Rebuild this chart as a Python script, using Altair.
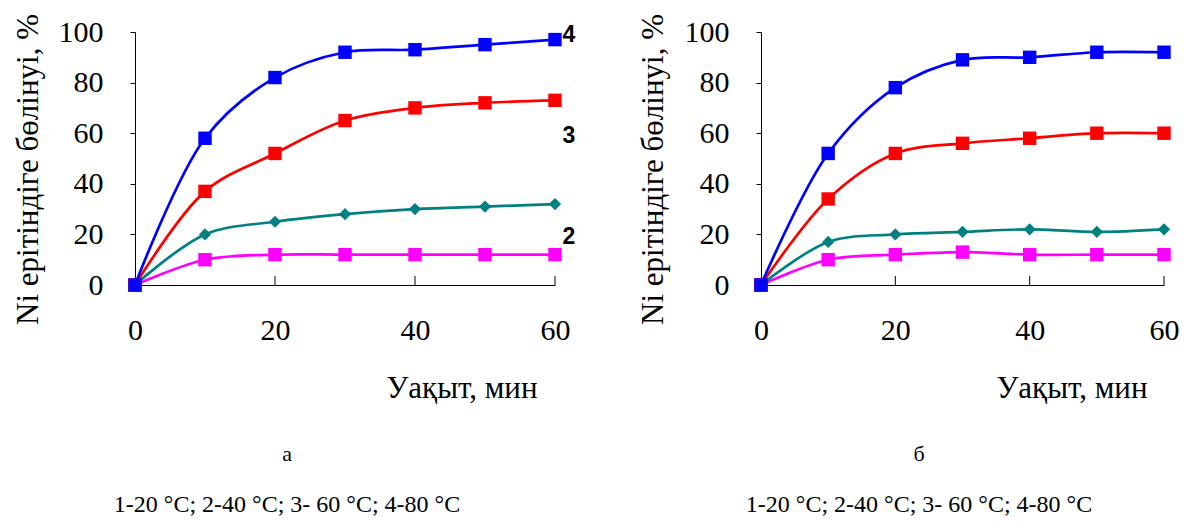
import altair as alt
import pandas as pd

time_min = [0, 10, 20, 30, 40, 50, 60]
a_s1 = [0, 10, 12, 12, 12, 12, 12]
a_s2 = [0, 20, 25, 28, 30, 31, 32]
a_s3 = [0, 37, 52, 65, 70, 72, 73]
a_s4 = [0, 58, 82, 92, 93, 95, 97]
b_s1 = [0, 10, 12, 13, 12, 12, 12]
b_s2 = [0, 17, 20, 21, 22, 21, 22]
b_s3 = [0, 34, 52, 56, 58, 60, 60]
b_s4 = [0, 52, 78, 89, 90, 92, 92]
series_colors = ["#FF00FF", "#008080", "#FF0000", "#0000FF"]
series_shapes = ["square", "diamond", "square", "square"]
series_sizes = [180, 150, 180, 180]
curve_labels = ["4", "3", "2"]
curve_label_y = [99, 59, 19]
curve_label_x = [62.0, 62.0, 62.0]
x_ticks = [0, 20, 40, 60]
y_ticks = [0, 20, 40, 60, 80, 100]
x_title = "Уақыт, мин"
y_title = "Ni ерітіндіге бөлінуі, %"
caption_legend = "1-20 °C; 2-40 °C; 3- 60 °C; 4-80 °C"

H = 253
SERIF = "Liberation Serif"


def panel(series, width, letter, xtitle_x, ytitle_x, caption_x, with_labels):
    xenc = alt.X(
        "t:Q",
        scale=alt.Scale(domain=[0, 60], nice=False),
        axis=alt.Axis(
            values=x_ticks, ticks=False, tickSize=0, labelPadding=30,
            labelFlush=False, labelFont=SERIF, labelFontSize=30,
            title=x_title, titleX=xtitle_x, titleY=112, titleAlign="right",
            titleFont=SERIF, titleFontSize=31,
            titleBaseline="alphabetic", grid=False,
        ),
    )
    yenc = alt.Y(
        "v:Q",
        scale=alt.Scale(domain=[0, 100], nice=False),
        axis=alt.Axis(
            values=y_ticks, tickSize=5, labelPadding=27,
            labelFlush=False, labelFont=SERIF, labelFontSize=30,
            title=y_title, titleX=ytitle_x, titleY=137, titleAngle=-90,
            titleFont=SERIF, titleFontSize=31,
            titleAlign="center", titleBaseline="alphabetic", grid=False,
        ),
    )
    layers = []
    for vals, c, s, sz in zip(series, series_colors, series_shapes, series_sizes):
        df = pd.DataFrame({"t": time_min, "v": vals})
        base = alt.Chart(df).encode(x=xenc, y=yenc)
        layers.append(base.mark_line(interpolate="catmull-rom", color=c, strokeWidth=2.7))
        layers.append(base.mark_point(shape=s, filled=True, size=sz, color=c, opacity=1))
    tick_df = pd.DataFrame({"t": x_ticks[1:]})
    layers.append(
        alt.Chart(tick_df).mark_rule(color="black", strokeWidth=1).encode(
            x=xenc, y=alt.value(H), y2=alt.value(H - 9)
        )
    )
    if with_labels:
        lab_df = pd.DataFrame({"t": curve_label_x, "v": curve_label_y, "lab": curve_labels})
        layers.append(
            alt.Chart(lab_df).mark_text(
                font="Liberation Sans", fontWeight="bold", fontSize=23,
                align="center", baseline="middle", color="black",
            ).encode(x=xenc, y=yenc, text="lab:N")
        )
    cap_df = pd.DataFrame({"a": [letter], "b": [caption_legend]})
    layers.append(
        alt.Chart(cap_df).mark_text(font=SERIF, fontSize=22, color="black",
                                     align="center", baseline="middle").encode(
            text="a:N", x=alt.value(caption_x), y=alt.value(422))
    )
    layers.append(
        alt.Chart(cap_df).mark_text(font=SERIF, fontSize=24, color="black",
                                     align="center", baseline="middle").encode(
            text="b:N", x=alt.value(caption_x), y=alt.value(473))
    )
    return alt.layer(*layers).properties(width=width, height=H)


left = panel([a_s1, a_s2, a_s3, a_s4], 420, "а", 402, -98, 152, True)
right = panel([b_s1, b_s2, b_s3, b_s4], 403, "б", 386, -99, 158, False)

chart = alt.hconcat(left, right, spacing=206, bounds="flush").properties(
    padding={"left": 3, "top": 5, "right": 0, "bottom": 0}
).configure_view(stroke=None).configure_axis(
    domainColor="black", domainWidth=1, tickColor="black", labelColor="black",
    labelFont=SERIF, labelFontSize=30, titleFont=SERIF, titleFontSize=31,
    titleFontWeight="normal", titleColor="black",
)

chart.save("out.html", embed_options={"renderer": "svg", "actions": False})
